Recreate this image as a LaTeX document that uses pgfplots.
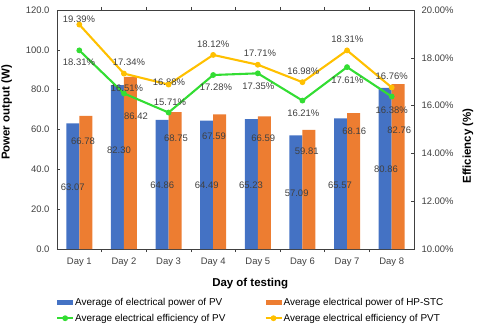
\documentclass[border=0pt]{standalone}
\usepackage{pgfplots}
\pgfplotsset{compat=1.18}
\usepackage{fontspec}
\setmainfont{Liberation Sans}
\definecolor{pvblue}{HTML}{4472C4}
\definecolor{hporange}{HTML}{ED7D31}
\definecolor{effgreen}{HTML}{33DD33}
\definecolor{effyellow}{HTML}{FFC000}
\definecolor{axgray}{HTML}{404040}
\definecolor{labgray}{HTML}{404040}
\tikzset{lab/.style={font=\fontsize{9.5}{11}\selectfont, text=labgray, inner sep=0pt, anchor=center}}
\pgfplotsset{
  barleg/.style={legend image code/.code={\fill[##1] (0bp,-2.5bp) rectangle (16bp,2.5bp);}},
  lineleg/.style={legend image code/.code={\draw[mark repeat=2,mark phase=2,##1] plot coordinates {(0bp,0bp) (8bp,0bp) (16bp,0bp)};}},
  common/.style={
    scale only axis, width=357bp, height=239bp,
    xmin=0.5, xmax=8.5,
    axis line style={axgray, line width=0.8pt},
    tick style={axgray, line width=0.6pt},
    tick align=inside,
    major tick length=3bp, minor tick length=3bp,
    /pgf/number format/assume math mode=true,
    tick label style={font=\fontsize{9.5}{11}\selectfont, text=labgray},
    label style={font=\fontsize{11.5}{13}\selectfont\bfseries, text=black},
  },
}
\begin{document}
\begin{tikzpicture}
\path[use as bounding box] (-57bp,-85bp) rectangle (423bp,249bp);
\begin{axis}[common,
  ybar=0pt, bar width=13bp,
  ymin=0, ymax=120, ytick={0,20,...,120},
  ytick pos=left,
  yticklabel style={xshift=-4bp, /pgf/number format/.cd, fixed, fixed zerofill, precision=1},
  xticklabel style={yshift=-2bp},
  xtick={1,...,8},
  xticklabels={Day 1,Day 2,Day 3,Day 4,Day 5,Day 6,Day 7,Day 8},
  major x tick style={draw=none},
  minor xtick={1.5,2.5,...,7.5},
  minor x tick style={draw=axgray},
  xlabel={Day of testing},
  xlabel style={at={(axis description cs:0.541,-0.146)}, anchor=center},
  ylabel={Power output (W)},
  ylabel style={at={(axis description cs:-0.141,0.571)}, anchor=center},
]
\addplot[fill=pvblue, draw=none] coordinates {(1,63.07) (2,82.30) (3,64.86) (4,64.49) (5,65.23) (6,57.09) (7,65.57) (8,80.86)};
\addplot[fill=hporange, draw=none] coordinates {(1,66.78) (2,86.42) (3,68.75) (4,67.59) (5,66.59) (6,59.81) (7,68.16) (8,82.76)};
\node[lab] at (axis cs:0.852,31.0) {63.07};
\node[lab] at (axis cs:1.889,49.7) {82.30};
\node[lab] at (axis cs:2.860,31.8) {64.86};
\node[lab] at (axis cs:3.855,31.8) {64.49};
\node[lab] at (axis cs:4.847,31.8) {65.23};
\node[lab] at (axis cs:5.871,28.0) {57.09};
\node[lab] at (axis cs:6.842,32.1) {65.57};
\node[lab] at (axis cs:7.873,40.2) {80.86};
\node[lab] at (axis cs:1.083,53.9) {66.78};
\node[lab] at (axis cs:2.270,66.9) {86.42};
\node[lab] at (axis cs:3.167,55.6) {68.75};
\node[lab] at (axis cs:4.018,56.4) {67.59};
\node[lab] at (axis cs:5.123,55.6) {66.59};
\node[lab] at (axis cs:6.096,48.9) {59.81};
\node[lab] at (axis cs:7.162,58.9) {68.16};
\node[lab] at (axis cs:8.171,59.7) {82.76};
\end{axis}
\begin{axis}[common,
  axis x line=none,
  axis y line*=right,
  ymin=10, ymax=20, ytick={10,12,...,20},
  yticklabel={\pgfmathprintnumber[fixed,fixed zerofill,precision=2]{\tick}\%},
  yticklabel style={xshift=4bp},
  ylabel={Efficiency (\%)},
  ylabel style={at={(axis description cs:1.151,0.431)}, anchor=center},
  legend columns=2,
  legend cell align=left,
  legend style={draw=none, fill=none, inner sep=0pt,
    at={(axis description cs:-0.003,-0.1967)}, anchor=north west,
    font=\fontsize{10}{12}\selectfont,
    nodes={inner sep=1bp, text height=8bp, text depth=2bp},
    /tikz/every even column/.append style={column sep=38bp},
    row sep=4bp},
  lineleg,
]
\addlegendimage{barleg, fill=pvblue, draw=none}
\addlegendentry{Average of electrical power of PV}
\addlegendimage{barleg, fill=hporange, draw=none}
\addlegendentry{Average electrical power of HP-STC}
\addplot[effgreen, line width=2.1pt, mark=*, mark size=2.4pt, mark options={line width=1pt}] coordinates {(1,18.31) (2,16.51) (3,15.71) (4,17.28) (5,17.35) (6,16.21) (7,17.61) (8,16.38)};
\addlegendentry{Average electrical efficiency of PV}
\addplot[effyellow, line width=2.1pt, mark=*, mark size=2.4pt, mark options={line width=1pt}] coordinates {(1,19.39) (2,17.34) (3,16.88) (4,18.12) (5,17.71) (6,16.98) (7,18.31) (8,16.76)};
\addlegendentry{Average electrical efficiency of PVT}
\node[lab] at (axis cs:0.993,19.62) {19.39\%};
\node[lab] at (axis cs:2.113,17.80) {17.34\%};
\node[lab] at (axis cs:3.010,16.96) {16.88\%};
\node[lab] at (axis cs:4.000,18.56) {18.12\%};
\node[lab] at (axis cs:5.049,18.19) {17.71\%};
\node[lab] at (axis cs:6.020,17.45) {16.98\%};
\node[lab] at (axis cs:7.006,18.77) {18.31\%};
\node[lab] at (axis cs:8.001,17.21) {16.76\%};
\node[lab] at (axis cs:0.993,17.80) {18.31\%};
\node[lab] at (axis cs:2.069,16.72) {16.51\%};
\node[lab] at (axis cs:3.032,16.16) {15.71\%};
\node[lab] at (axis cs:4.063,16.75) {17.28\%};
\node[lab] at (axis cs:5.011,16.82) {17.35\%};
\node[lab] at (axis cs:6.020,15.68) {16.21\%};
\node[lab] at (axis cs:7.006,17.07) {17.61\%};
\node[lab] at (axis cs:8.001,15.82) {16.38\%};
\end{axis}
\end{tikzpicture}
\end{document}
